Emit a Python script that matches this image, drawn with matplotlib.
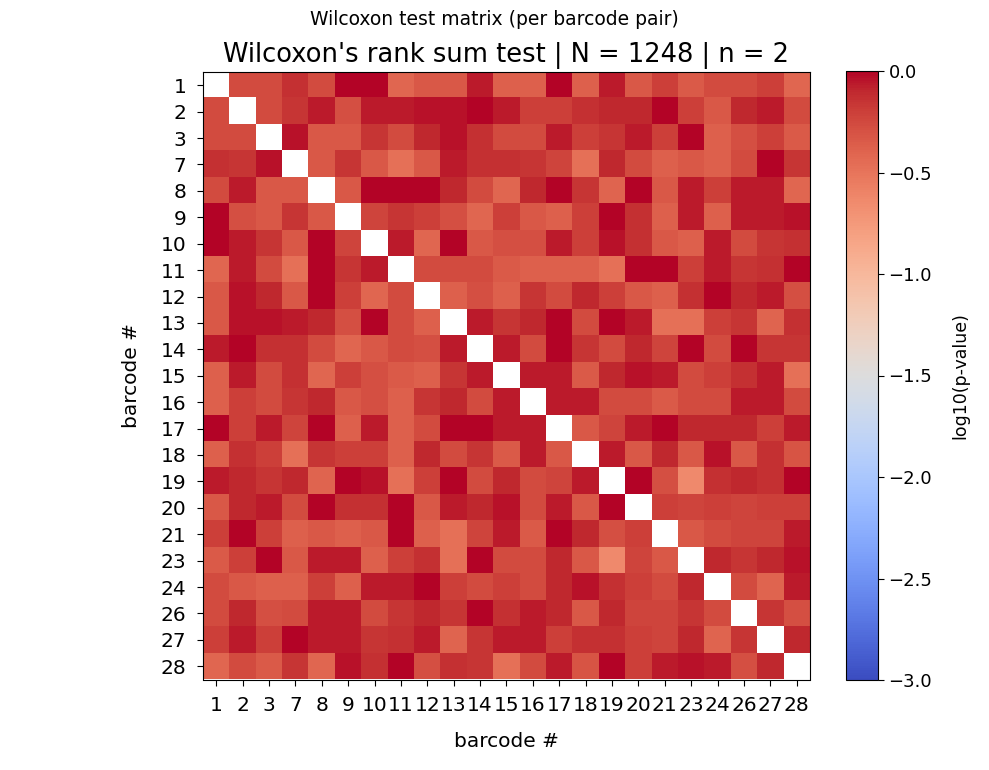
import numpy as np
import matplotlib
matplotlib.use("Agg")
import matplotlib.pyplot as plt

barcodes = ["1", "2", "3", "7", "8", "9", "10", "11", "12", "13", "14", "15",
            "16", "17", "18", "19", "20", "21", "23", "24", "26", "27", "28"]

# upper triangle of log10(p-value), row i gives columns i+1 .. end
upper_rows = [
    [-0.26, -0.26, -0.13, -0.26, -0.01, -0.01, -0.42, -0.33, -0.33, -0.07, -0.38, -0.38, -0.01, -0.38, -0.07, -0.33, -0.20, -0.35, -0.26, -0.26, -0.20, -0.42],
    [-0.26, -0.16, -0.07, -0.29, -0.07, -0.07, -0.04, -0.04, -0.01, -0.07, -0.20, -0.20, -0.13, -0.10, -0.10, -0.01, -0.20, -0.33, -0.10, -0.07, -0.26],
    [-0.04, -0.33, -0.33, -0.16, -0.26, -0.10, -0.04, -0.13, -0.26, -0.26, -0.07, -0.20, -0.16, -0.07, -0.20, -0.01, -0.38, -0.29, -0.20, -0.35],
    [-0.33, -0.16, -0.33, -0.48, -0.33, -0.07, -0.13, -0.13, -0.16, -0.23, -0.48, -0.10, -0.26, -0.38, -0.33, -0.38, -0.26, -0.01, -0.16],
    [-0.33, -0.01, -0.01, -0.01, -0.10, -0.26, -0.42, -0.10, -0.01, -0.16, -0.40, -0.01, -0.33, -0.07, -0.20, -0.07, -0.07, -0.42],
    [-0.23, -0.16, -0.20, -0.29, -0.42, -0.20, -0.33, -0.38, -0.20, -0.01, -0.13, -0.38, -0.07, -0.38, -0.07, -0.07, -0.04],
    [-0.07, -0.42, -0.01, -0.33, -0.29, -0.29, -0.07, -0.20, -0.04, -0.13, -0.33, -0.38, -0.07, -0.26, -0.16, -0.13],
    [-0.26, -0.26, -0.26, -0.35, -0.38, -0.38, -0.38, -0.48, -0.01, -0.01, -0.20, -0.07, -0.16, -0.13, -0.01],
    [-0.38, -0.29, -0.38, -0.16, -0.26, -0.10, -0.20, -0.33, -0.38, -0.13, -0.01, -0.10, -0.07, -0.29],
    [-0.07, -0.16, -0.10, -0.01, -0.26, -0.01, -0.07, -0.48, -0.48, -0.20, -0.16, -0.40, -0.13],
    [-0.07, -0.26, -0.01, -0.16, -0.26, -0.10, -0.23, -0.01, -0.26, -0.01, -0.16, -0.16],
    [-0.07, -0.07, -0.35, -0.10, -0.04, -0.07, -0.26, -0.20, -0.13, -0.07, -0.48],
    [-0.07, -0.07, -0.26, -0.26, -0.35, -0.26, -0.26, -0.07, -0.07, -0.26],
    [-0.33, -0.23, -0.07, -0.01, -0.10, -0.10, -0.10, -0.20, -0.07],
    [-0.07, -0.33, -0.10, -0.33, -0.04, -0.33, -0.13, -0.31],
    [-0.01, -0.29, -0.64, -0.13, -0.10, -0.13, -0.01],
    [-0.20, -0.23, -0.20, -0.23, -0.20, -0.20],
    [-0.33, -0.26, -0.23, -0.23, -0.07],
    [-0.10, -0.16, -0.10, -0.04],
    [-0.26, -0.40, -0.07],
    [-0.16, -0.29],
    [-0.10],
]

n = len(barcodes)
M = np.full((n, n), np.nan)
for i, row in enumerate(upper_rows):
    for k, v in enumerate(row):
        j = i + 1 + k
        M[i, j] = v
        M[j, i] = v

W, H = 989, 770
fig = plt.figure(figsize=(W / 100, H / 100), dpi=100)
ax = fig.add_axes([203 / W, 1 - 679.5 / H, 607 / W, 607.5 / H])
cax = fig.add_axes([846 / W, 1 - 680 / H, 32 / W, 609 / H])

im = ax.imshow(M, cmap="coolwarm", vmin=-3, vmax=0, aspect="auto",
               interpolation="nearest")
ax.set_xticks(range(n))
ax.set_xticklabels(barcodes, fontsize=14.5)
ax.set_yticks(range(n))
ax.set_yticklabels(barcodes, fontsize=14.5)
ax.tick_params(axis="both", length=4, pad=8)
ax.set_xlabel("barcode #", fontsize=14.5, labelpad=12)
ax.set_ylabel("barcode #", fontsize=14.5, labelpad=14)
ax.set_title("Wilcoxon's rank sum test | N = 1248 | n = 2", fontsize=18.5, pad=7)

cb = fig.colorbar(im, cax=cax)
cb.set_ticks([0.0, -0.5, -1.0, -1.5, -2.0, -2.5, -3.0])
cb.ax.tick_params(labelsize=13, length=4)
cb.set_label("log10(p-value)", fontsize=12.5, labelpad=14)

fig.suptitle("Wilcoxon test matrix (per barcode pair)", fontsize=13.5, y=0.987)

fig.savefig("out.png", dpi=100)
